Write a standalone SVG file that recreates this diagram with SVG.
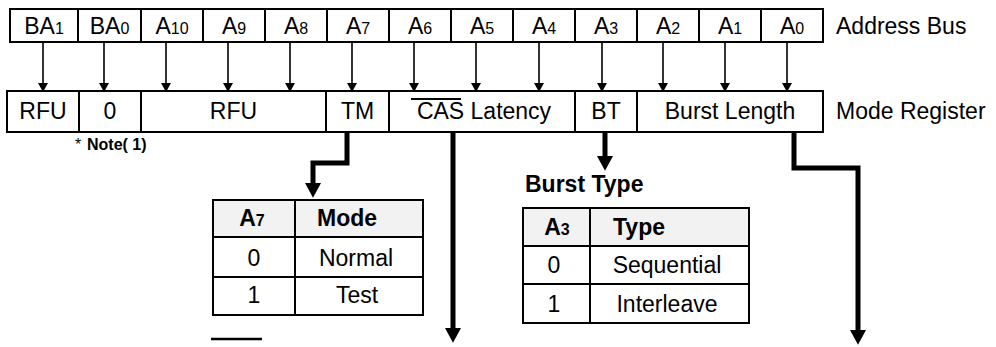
<svg xmlns="http://www.w3.org/2000/svg" width="996" height="347" viewBox="0 0 996 347">
<defs>
<style>
text{font-family:"Liberation Sans",Arial,sans-serif;font-size:23px;fill:#000}
.m{text-anchor:middle}
.b{font-weight:bold}
.s{font-size:16px}
.box{fill:#fff;stroke:#000;stroke-width:2}
.hdr{fill:#f2f2f2;stroke:#000;stroke-width:2}
.div{stroke:#000;stroke-width:2;fill:none}
.thin{stroke:#000;stroke-width:1.6;fill:none;marker-end:url(#ah)}
.thick{stroke:#000;stroke-width:5;fill:none;stroke-linejoin:miter;marker-end:url(#ahb)}
</style>
<marker id="ah" markerUnits="userSpaceOnUse" markerWidth="10" markerHeight="10" refX="0" refY="4.5" orient="auto" viewBox="0 0 8 9"><path d="M0,0 L8,4.5 L0,9 z" fill="#000"/></marker>
<marker id="ahb" markerUnits="userSpaceOnUse" markerWidth="16" markerHeight="16" refX="0" refY="7" orient="auto" viewBox="0 0 13 14"><path d="M0,0 L13,7 L0,14 z" fill="#000"/></marker>
</defs>
<g id="address-bus">
<rect class="box" x="10" y="9" width="813" height="33"/>
<path class="div" d="M78,9V42M141,9V42M203,9V42M265,9V42M327,9V42M389,9V42M451,9V42M513,9V42M575,9V42M637,9V42M699,9V42M761,9V42"/>
<text class="m" x="44" y="34">BA<tspan class="s">1</tspan></text>
<text class="m" x="109.5" y="34">BA<tspan class="s">0</tspan></text>
<text class="m" x="172" y="34">A<tspan class="s">10</tspan></text>
<text class="m" x="234" y="34">A<tspan class="s">9</tspan></text>
<text class="m" x="296" y="34">A<tspan class="s">8</tspan></text>
<text class="m" x="358" y="34">A<tspan class="s">7</tspan></text>
<text class="m" x="420" y="34">A<tspan class="s">6</tspan></text>
<text class="m" x="482" y="34">A<tspan class="s">5</tspan></text>
<text class="m" x="544" y="34">A<tspan class="s">4</tspan></text>
<text class="m" x="606" y="34">A<tspan class="s">3</tspan></text>
<text class="m" x="668" y="34">A<tspan class="s">2</tspan></text>
<text class="m" x="730" y="34">A<tspan class="s">1</tspan></text>
<text class="m" x="792" y="34">A<tspan class="s">0</tspan></text>
<text x="836" y="34">Address Bus</text>
</g>
<g id="mode-register">
<rect class="box" x="7" y="91" width="816" height="41"/>
<path class="div" d="M79,91V132M141,91V132M326,91V132M389,91V132M575,91V132M637,91V132"/>
<text class="m" x="43" y="119">RFU</text>
<text class="m" x="110" y="119">0</text>
<text class="m" x="233.5" y="119">RFU</text>
<text class="m" x="357.5" y="119">TM</text>
<text class="m" x="484" y="119">CAS Latency</text>
<line x1="411" y1="99" x2="461" y2="99" stroke="#000" stroke-width="2"/>
<text class="m" x="606" y="119">BT</text>
<text class="m" x="730" y="119">Burst Length</text>
<text x="836" y="119">Mode Register</text>
</g>
<g id="note">
<text x="75" y="150" style="font-size:16px">*</text>
<text x="87" y="150" class="b" style="font-size:16px">Note( 1)</text>
</g>
<g id="test-mode-table">
<rect class="hdr" x="213" y="200" width="210" height="37"/>
<rect class="box" x="213" y="237" width="210" height="78"/>
<path class="div" d="M213,277H423M295,200V315"/>
<text class="m b" x="252" y="226">A<tspan class="s">7</tspan></text>
<text class="b" x="317" y="226">Mode</text>
<text class="m" x="254" y="266">0</text>
<text class="m" x="356" y="266">Normal</text>
<text class="m" x="254" y="303">1</text>
<text class="m" x="357" y="303">Test</text>
</g>
<g id="burst-type-table">
<text class="b" x="525" y="192">Burst Type</text>
<rect class="hdr" x="523" y="208" width="226" height="38"/>
<rect class="box" x="523" y="246" width="226" height="77"/>
<path class="div" d="M523,284H749M590,208V323"/>
<text class="m b" x="557" y="235">A<tspan class="s">3</tspan></text>
<text class="b" x="613" y="235">Type</text>
<text class="m" x="554" y="273">0</text>
<text class="m" x="667" y="273">Sequential</text>
<text class="m" x="554" y="312">1</text>
<text class="m" x="667" y="312">Interleave</text>
</g>
<g id="cas-cut">
<line x1="211" y1="339" x2="262" y2="339" stroke="#000" stroke-width="2.5"/>
</g>
<g id="connectors">
<path class="thin" d="M43,42V83"/>
<path class="thin" d="M104,42V83"/>
<path class="thin" d="M166,42V83"/>
<path class="thin" d="M228,42V83"/>
<path class="thin" d="M290,42V83"/>
<path class="thin" d="M352,42V83"/>
<path class="thin" d="M414,42V83"/>
<path class="thin" d="M476,42V83"/>
<path class="thin" d="M539,42V83"/>
<path class="thin" d="M602,42V83"/>
<path class="thin" d="M663,42V83"/>
<path class="thin" d="M725,42V83"/>
<path class="thin" d="M787,42V83"/>
<path class="thick" d="M347,133V163H313V183"/>
<path class="thick" d="M453,133V328"/>
<path class="thick" d="M605,133V156"/>
<path class="thick" d="M794,133V168H858V330"/>
</g>
</svg>
